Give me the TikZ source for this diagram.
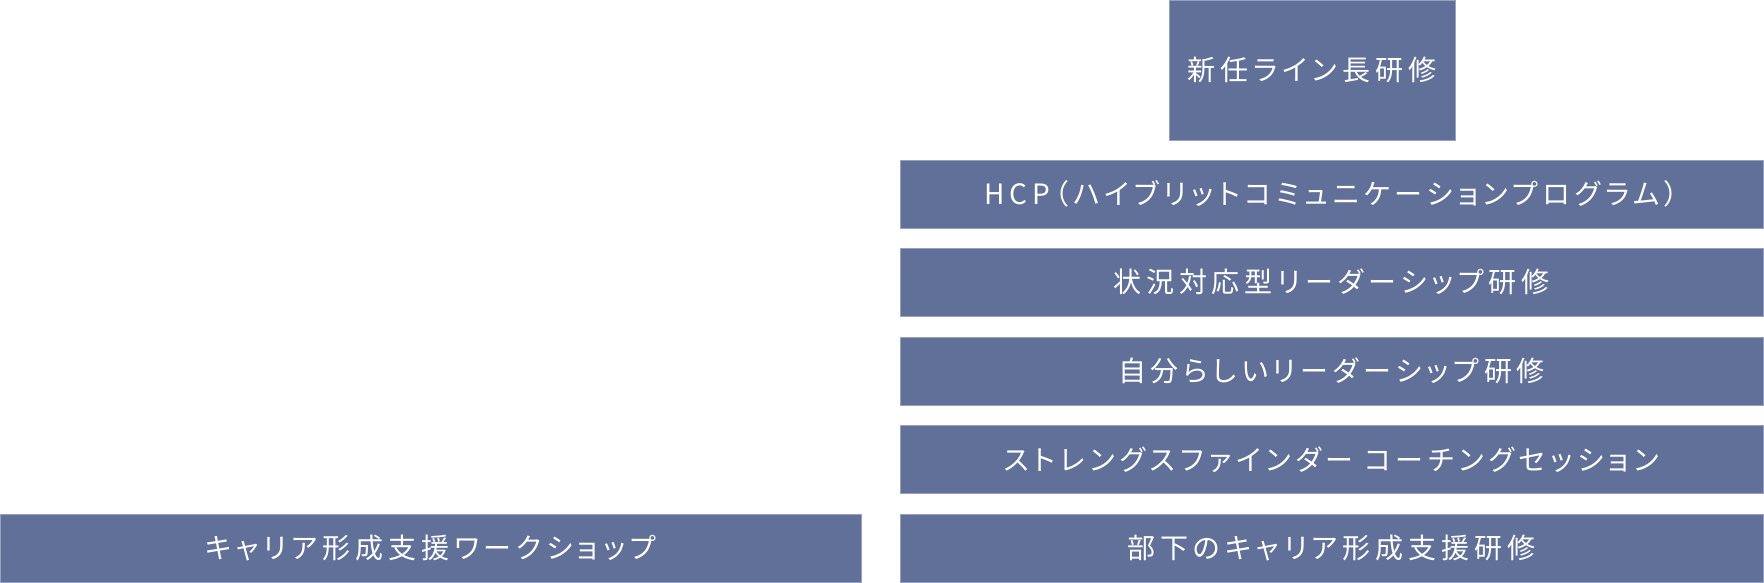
\documentclass[tikz,border=0pt]{standalone}
\usepackage{fontspec}
\newfontfamily\jpfont[LetterSpace=17.5, RawFeature=+palt]{Noto Sans CJK JP}
\definecolor{boxfill}{RGB}{97,112,152}
\definecolor{boxedge}{RGB}{150,162,192}
\tikzset{
  course/.style={rectangle, fill=boxfill, draw=boxedge, line width=0.8pt,
    text=white, font=\jpfont\fontsize{28}{32}\selectfont, inner sep=0pt,
    minimum height=68pt},
  wide/.style={course, minimum width=863pt},
}
\begin{document}
\begin{tikzpicture}[x=1pt, y=-1pt]
    \useasboundingbox (0,0) rectangle (1764,583);
    % --- right column, top to bottom ---
    \node[course, minimum width=286pt, minimum height=140pt] (lead) at (1312, 70) {新任ライン長研修};
    \node[wide] (hcp) at (1331.5, 194) {HCP（ハイブリットコミュニケーションプログラム）};
    \node[wide] (situ) at (1331.5, 282) {状況対応型リーダーシップ研修};
    \node[wide] (self) at (1331.5, 371) {自分らしいリーダーシップ研修};
    \node[wide] (strength) at (1331.5, 459.5) {ストレングスファインダー コーチングセッション};
    \node[wide] (career) at (1331.5, 548) {部下のキャリア形成支援研修};

    % --- left column ---
    \node[course, minimum width=861pt] (workshop) at (430.5, 548) {キャリア形成支援ワークショップ};
\end{tikzpicture}
\end{document}
